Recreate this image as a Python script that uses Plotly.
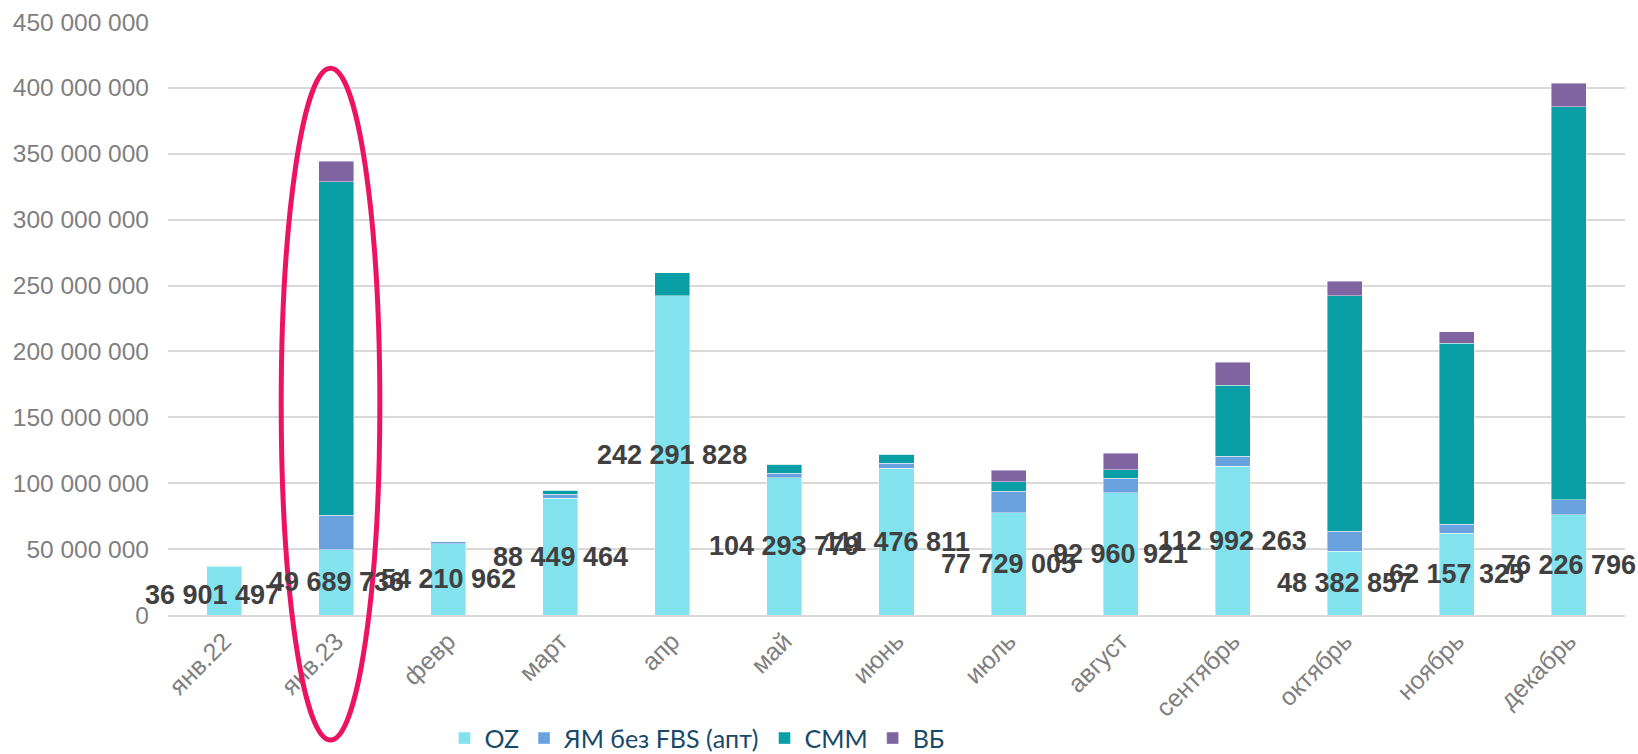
import plotly.graph_objects as go

# Months on the category axis
months = ["янв.22", "янв.23", "февр", "март", "апр", "май", "июнь",
          "июль", "август", "сентябрь", "октябрь", "ноябрь", "декабрь"]

# Sales by marketplace, rubles
oz = [36901497, 49689736, 54210962, 88449464, 242291828, 104293779, 111476811,
      77729005, 92960921, 112992263, 48382857, 62157325, 76226796]
ym = [1000000, 26000000, 1600000, 3300000, 0, 3200000, 3800000,
      16100000, 10700000, 7600000, 15300000, 6900000, 11100000]
smm = [0, 253000000, 0, 3000000, 17500000, 6800000, 6900000,
       7300000, 6600000, 53700000, 178600000, 137100000, 298400000]
vb = [0, 15600000, 0, 0, 0, 0, 0,
      8900000, 12400000, 17700000, 10900000, 8900000, 17900000]

series = [
    ("OZ", oz, "#82E2EE"),
    ("ЯМ без FBS (апт)", ym, "#6AA1DF"),
    ("СММ", smm, "#0A9FA4"),
    ("ВБ", vb, "#8064A2"),
]

y_ticks = list(range(0, 450000001, 50000000))

# pixel nudges for labels that sit off-centre
label_nudge = {"янв.22": (-12, -4)}


def fmt(v):
    return f"{v:,}".replace(",", " ")


fig = go.Figure()
for name, vals, color in series:
    fig.add_trace(go.Bar(
        x=months, y=vals, name=name,
        marker=dict(color=color, line=dict(color="rgba(255,255,255,0.6)", width=0.7)),
        hoverinfo="skip",
    ))

# OZ value labels, centred in the OZ segment
for m, v in zip(months, oz):
    dx, dy = label_nudge.get(m, (0, 0))
    fig.add_annotation(
        x=m, y=v / 2, text=fmt(v), showarrow=False,
        xshift=dx, yshift=dy,
        font=dict(family="Liberation Sans, Arial, sans-serif", size=27,
                  color="#404040", weight="bold"),
        xanchor="center", yanchor="middle",
    )

# Highlight ellipse around January 2023
fig.add_shape(
    type="circle", xref="x", yref="paper",
    x0=0.51, x1=1.39, y0=-0.211, y1=0.922,
    line=dict(color="#EC1461", width=5), layer="above",
)

fig.update_layout(
    width=1638, height=754,
    margin=dict(l=168, r=13, t=22, b=139, autoexpand=False),
    barmode="stack", bargap=0.6875,
    plot_bgcolor="white", paper_bgcolor="white",
    separators=", ",
    font=dict(family="Liberation Sans, Arial, sans-serif", color="#7f7f7f"),
    showlegend=True,
    legend=dict(
        orientation="h", x=0.363, xanchor="center", y=-0.208, yanchor="middle",
        font=dict(family="Lato, sans-serif", size=25, color="#17496A"),
        traceorder="normal", itemwidth=30,
    ),
    xaxis=dict(
        type="category", range=[-0.5, len(months) - 0.5], tickangle=-45,
        automargin=False,
        tickfont=dict(size=25, color="#7f7f7f"),
        showgrid=False, showline=True, linecolor="#d9d9d9", linewidth=1.5,
        ticks="",
    ),
    yaxis=dict(
        range=[0, 450000000], tickvals=y_ticks, tickformat=",d", automargin=False,
        tickfont=dict(size=24.5, color="#7f7f7f"),
        showgrid=True, gridcolor="#d9d9d9", gridwidth=1.5,
        zeroline=False, showline=False, ticks="",
        ticklabelstandoff=18,
    ),
)

fig.write_html("out.html")
